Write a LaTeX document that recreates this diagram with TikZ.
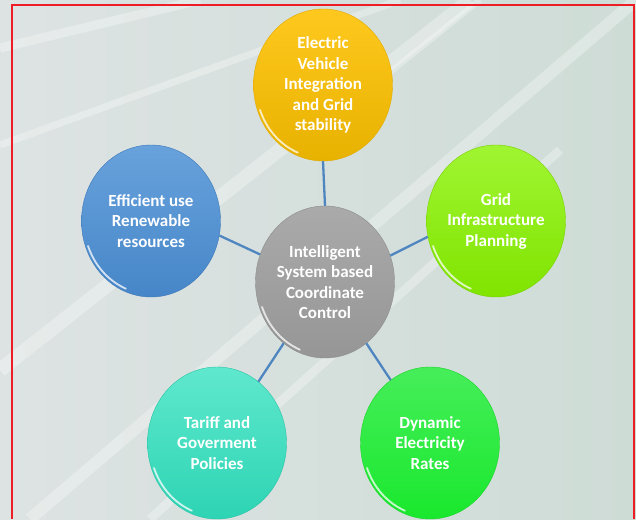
\documentclass[tikz,border=0pt]{standalone}
\usepackage{fontspec}
\setmainfont{Carlito}
\usetikzlibrary{shapes.geometric}

\definecolor{linkblue}{HTML}{4F86C0}
\definecolor{frame}{HTML}{EE1C24}

\begin{document}
\begin{tikzpicture}[x=1pt, y=-1pt,
    bubble/.style={ellipse, minimum width=139pt, minimum height=152pt, inner sep=0pt,
        align=center, text=white, font=\bfseries\fontsize{17}{20.5}\selectfont,
        path picture={\draw[white, line width=1.8pt, opacity=0.75, line cap=round]
            (path picture bounding box.center) ++(200:67pt and 73pt)
            arc[start angle=200, end angle=248, x radius=67pt, y radius=73pt];}},
    link/.style={draw=linkblue, line width=2.3pt},
    streak/.style={draw=white, opacity=0.3, line cap=butt}]

    % background and streaks
    \useasboundingbox (0,0) rectangle (636,519);
    \shade[left color={rgb,255:red,221;green,227;blue,227}, right color={rgb,255:red,206;green,220;blue,214}]
        (0,0) rectangle (636,519);
    \begin{scope}
        \clip (0,0) rectangle (636,519);
        \draw[streak, line width=9pt] (0,48) -- (200,0);
        \draw[streak, line width=7pt] (0,145) -- (400,0);
        \draw[streak, line width=14pt] (0,370) -- (470,0);
        \draw[streak, line width=12pt] (30,519) -- (636,0);
        \draw[streak, line width=9pt] (150,519) -- (560,150);
        \draw[streak, line width=6pt] (380,80) -- (480,0);
    \end{scope}
    \draw[frame, line width=2pt] (12,519) -- (12,5) -- (634,5) -- (634,519);

    % bubbles
    \node[bubble, top color={rgb,255:red,170;green,170;blue,170}, bottom color={rgb,255:red,150;green,150;blue,150}, draw={rgb,255:red,140;green,140;blue,140}]
        (core) at (325,282) {Intelligent\\System based\\Coordinate\\Control};
    \node[bubble, top color={rgb,255:red,255;green,200;blue,30}, bottom color={rgb,255:red,232;green,178;blue,0}, draw={rgb,255:red,225;green,170;blue,0}]
        (ev) at (323,85) {Electric\\Vehicle\\Integration\\and Grid\\stability};
    \node[bubble, top color={rgb,255:red,104;green,162;blue,220}, bottom color={rgb,255:red,70;green,134;blue,200}, draw={rgb,255:red,60;green,120;blue,185}]
        (res) at (151,221) {Efficient use\\Renewable\\resources};
    \node[bubble, top color={rgb,255:red,160;green,245;blue,50}, bottom color={rgb,255:red,128;green,228;blue,0}, draw={rgb,255:red,120;green,210;blue,0}]
        (grid) at (496,221) {Grid\\Infrastructure\\Planning};
    \node[bubble, top color={rgb,255:red,95;green,232;blue,205}, bottom color={rgb,255:red,45;green,212;blue,180}, draw={rgb,255:red,40;green,195;blue,165}]
        (tariff) at (217,443) {Tariff and\\Goverment\\Policies};
    \node[bubble, top color={rgb,255:red,70;green,238;blue,90}, bottom color={rgb,255:red,25;green,232;blue,45}, draw={rgb,255:red,25;green,210;blue,40}]
        (rates) at (430,443) {Dynamic\\Electricity\\Rates};

    % links
    \draw[link] (ev.south) -- (core.north);
    \draw[link] (res.-12) -- (core.157);
    \draw[link] (grid.-167) -- (core.22);
    \draw[link] (tariff.56) -- (core.236);
    \draw[link] (rates.122) -- (core.304);
\end{tikzpicture}
\end{document}
